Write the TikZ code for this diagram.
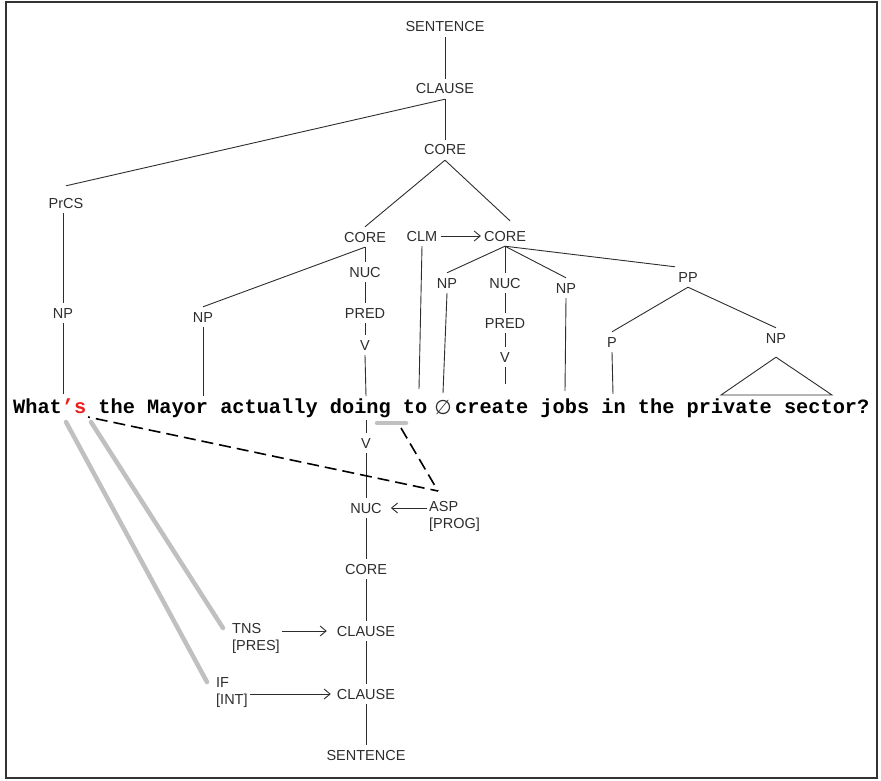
\documentclass[tikz,border=0pt]{standalone}
\usepackage{fontspec}
\setmainfont{Liberation Sans}
\setmonofont{Liberation Mono}
\newfontfamily\zerofont{DejaVu Sans}
\usepackage{xcolor}
\usepackage{tikz}
\usetikzlibrary{arrows.meta}
\definecolor{inkgray}{RGB}{45,45,45}
\definecolor{tracegray}{RGB}{192,192,192}
\definecolor{cliticred}{RGB}{235,30,30}

\begin{document}
\begin{tikzpicture}[x=1pt, y=-1pt,
  every node/.style={font=\fontsize{14.5}{17}\selectfont, text=inkgray},
  lbl/.style={inner xsep=3pt, inner ysep=5pt, text height=10pt, text depth=0pt},
  feat/.style={inner sep=2pt, align=left, anchor=north west},
  word/.style={inner sep=0pt, anchor=base west, font=\fontsize{20.3}{24}\selectfont\ttfamily\bfseries, text=black},
  tree/.style={line width=0.9pt, inkgray},
  link/.style={line width=0.9pt, inkgray, -{Straight Barb[length=6pt,width=10pt]}},
  trace/.style={line width=4.5pt, tracegray, line cap=round},
  dep/.style={line width=1.6pt, black, dash pattern=on 12pt off 6pt}]
\useasboundingbox (0,0) rectangle (881,781);
\draw[line width=1.3pt, black!80] (6,2) rectangle (877,778);

% Sentence
\node[word] (left) at (13,413) {What{\color{cliticred}’s} the Mayor actually doing to};
\node[inner sep=0pt, anchor=base, font=\fontsize{20}{22}\selectfont\zerofont, text=inkgray] (zero) at (443,414) {∅};
\node[word] (right) at (455,413) {create jobs in the private sector?};

\coordinate (w-what) at (63,394);
\coordinate (w-mayor) at (203,396);
\coordinate (w-doing) at (366,396);
\coordinate (w-to) at (419,389);
\coordinate (w-zero) at (443,393);
\coordinate (w-create) at (505,384);
\coordinate (w-jobs) at (565,391);
\coordinate (w-in) at (613,394);
\coordinate (w-np-l) at (721,395);
\coordinate (w-np-r) at (832,395);

% Constituent projection
\node[lbl] (sent) at (445,27) {SENTENCE};
\node[lbl] (clause) at (445,89) {CLAUSE};
\node[lbl] (core) at (445,150) {CORE};
\node[lbl] (prcs) at (66,203) {PrCS};
\node[lbl] (np-wh) at (63,313) {NP};
\node[lbl] (core-l) at (365,237) {CORE};
\node[lbl] (clm) at (422,236) {CLM};
\node[lbl] (core-r) at (505,236) {CORE};
\node[lbl] (np-mayor) at (203,317) {NP};
\node[lbl] (nuc-l) at (365,272) {NUC};
\node[lbl] (pred-l) at (365,313) {PRED};
\node[lbl] (v-l) at (365,345) {V};
\node[lbl] (np-zero) at (447,283) {NP};
\node[lbl] (nuc-r) at (505,283) {NUC};
\node[lbl] (pred-r) at (505,323) {PRED};
\node[lbl] (v-r) at (505,357) {V};
\node[lbl] (np-jobs) at (566,288) {NP};
\node[lbl] (pp) at (688,277) {PP};
\node[lbl] (p) at (612,342) {P};
\node[lbl] (np-sector) at (776,338) {NP};

\draw[tree] (sent.south) -- (clause.north);
\draw[tree] (clause.south) -- (core.north);
\draw[tree] (clause.south) -- ([yshift=7pt]prcs.north);
\draw[tree] (prcs.south -| np-wh.north) -- (np-wh.north);
\draw[tree] (np-wh.south) -- (w-what);
\draw[tree] (core.south) -- (core-l.north);
\draw[tree] (core.south) -- ([xshift=5pt,yshift=5pt]core-r.north);
\draw[tree] (core-l.south) -- (np-mayor.north);
\draw[tree] (np-mayor.south) -- (w-mayor);
\draw[tree] (core-l.south) -- (nuc-l.north);
\draw[tree] (nuc-l.south) -- (pred-l.north);
\draw[tree] (pred-l.south) -- (v-l.north);
\draw[tree] (v-l.south) -- (w-doing);
\draw[link] (clm.east) -- (core-r.west);
\draw[tree] (clm.south) -- (w-to);
\draw[tree] (core-r.south) -- (np-zero.north);
\draw[tree] (np-zero.south) -- (w-zero);
\draw[tree] (core-r.south) -- (nuc-r.north);
\draw[tree] (nuc-r.south) -- (pred-r.north);
\draw[tree] (pred-r.south) -- (v-r.north);
\draw[tree] (v-r.south) -- (w-create);
\draw[tree] (core-r.south) -- (np-jobs.north);
\draw[tree] (np-jobs.south) -- (w-jobs);
\draw[tree] (core-r.south) -- (pp.north west);
\draw[tree] (pp.south) -- (p.north);
\draw[tree] (p.south) -- (w-in);
\draw[tree] (pp.south) -- (np-sector.north);
\draw[tree] ([yshift=-9pt]np-sector.south) -- (w-np-r) -- (w-np-l) -- cycle;

% Operator projection
\coordinate (w-doing-b) at (366,420);
\coordinate (w-ing-l) at (377,423);
\coordinate (w-ing-r) at (406,423);
\coordinate (w-apos) at (66,422);
\coordinate (w-s) at (91,422);
\coordinate (w-s-dot) at (88,417);

\node[lbl] (v-op) at (366,443) {V};
\node[lbl] (nuc-op) at (366,508) {NUC};
\node[lbl] (core-op) at (366,569) {CORE};
\node[lbl] (clause-op1) at (366,631) {CLAUSE};
\node[lbl] (clause-op2) at (366,694) {CLAUSE};
\node[lbl] (sent-op) at (366,755) {SENTENCE};
\node[feat] (asp) at (427,499) {ASP\\{[PROG]}};
\node[feat] (tns) at (230,621) {TNS\\{[PRES]}};
\node[feat] (if) at (214,675) {IF\\{[INT]}};
\coordinate (asp-tip) at ([shift={(11,-8)}]asp.north west);

\draw[tree] (w-doing-b) -- (v-op.north);
\draw[tree] (v-op.south) -- (nuc-op.north);
\draw[tree] (nuc-op.south) -- (core-op.north);
\draw[tree] (core-op.south) -- (clause-op1.north);
\draw[tree] (clause-op1.south) -- (clause-op2.north);
\draw[tree] (clause-op2.south) -- (sent-op.north);
\draw[link, shorten >=6pt] (asp.west |- nuc-op.east) -- (nuc-op.east);
\draw[link, shorten >=7pt] (tns.east |- clause-op1.west) -- (clause-op1.west);
\draw[link, shorten >=3pt] (if.east |- clause-op2.west) -- (clause-op2.west);

% Morpheme links
\draw[trace] (w-ing-l) -- (w-ing-r);
\draw[trace] (w-s) -- ([shift={(-7,7)}]tns.north west);
\draw[trace] (w-apos) -- ([shift={(-7,7)}]if.north west);
\draw[dep, dash phase=10pt] (w-s-dot) -- (asp-tip);
\draw[dep] ([xshift=-5pt,yshift=-5pt]w-ing-r) -- (asp-tip);
\end{tikzpicture}
\end{document}
